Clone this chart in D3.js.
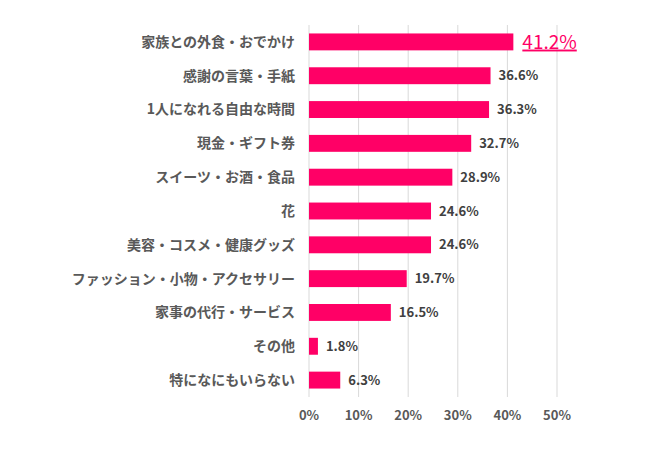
<!DOCTYPE html>
<html>
<head>
<meta charset="utf-8">
<script src="https://cdn.jsdelivr.net/npm/d3@7"></script>
<style>
  body { margin: 0; background: #fff; }
  svg text { font-family: "Noto Sans CJK JP", "Noto Sans", sans-serif; }
</style>
</head>
<body>
<svg class="chart"></svg>
<script>
const categories = [
    "家族との外食・おでかけ", "感謝の言葉・手紙", "1人になれる自由な時間", "現金・ギフト券",
    "スイーツ・お酒・食品", "花", "美容・コスメ・健康グッズ", "ファッション・小物・アクセサリー",
    "家事の代行・サービス", "その他", "特になにもいらない"
];
const values = [41.2, 36.6, 36.3, 32.7, 28.9, 24.6, 24.6, 19.7, 16.5, 1.8, 6.3];
const ticks = [0, 10, 20, 30, 40, 50];
const highlight = 0; // index of the emphasised value

const width = 650, height = 457;
const margin = {top: 25, right: 93, bottom: 60, left: 309};

const svg = d3.select(".chart")
    .attr("width", width)
    .attr("height", height);

const x = d3.scaleLinear()
    .domain([0, 50])
    .range([margin.left, width - margin.right]);

const y = d3.scaleBand()
    .domain(categories)
    .range([margin.top, height - margin.bottom])
    .paddingInner(0.5)
    .paddingOuter(0.25);

// gridlines
svg.append("g")
    .selectAll("line")
    .data(ticks)
    .enter().append("line")
    .attr("x1", d => x(d))
    .attr("x2", d => x(d))
    .attr("y1", margin.top)
    .attr("y2", height - margin.bottom)
    .attr("stroke", "#d9d9d9")
    .attr("stroke-width", 1);

// x tick labels
svg.append("g")
    .selectAll("text")
    .data(ticks)
    .enter().append("text")
    .attr("x", d => x(d))
    .attr("y", 415)
    .attr("dy", "0.35em")
    .attr("text-anchor", "middle")
    .attr("font-size", 13)
    .attr("font-weight", "bold")
    .attr("fill", "#595959")
    .text(d => d + "%");

// category labels
svg.append("g")
    .selectAll("text")
    .data(categories)
    .enter().append("text")
    .attr("x", 295)
    .attr("y", d => y(d) + y.bandwidth() / 2)
    .attr("dy", "0.35em")
    .attr("text-anchor", "end")
    .attr("font-size", 14)
    .attr("font-weight", "bold")
    .attr("fill", "#595959")
    .text(d => d);

// bars
svg.append("g")
    .selectAll("rect")
    .data(values)
    .enter().append("rect")
    .attr("x", x(0))
    .attr("y", (d, i) => y(categories[i]))
    .attr("width", d => x(d) - x(0))
    .attr("height", y.bandwidth())
    .attr("fill", "#ff0066");

// value labels
const labels = svg.append("g")
    .selectAll("text")
    .data(values)
    .enter().append("text")
    .attr("x", d => x(d) + 8)
    .attr("y", (d, i) => y(categories[i]) + y.bandwidth() / 2)
    .attr("dy", "0.35em")
    .attr("font-size", 13)
    .attr("font-weight", "bold")
    .attr("fill", "#404040")
    .text(d => d.toFixed(1) + "%");

labels.filter((d, i) => i === highlight)
    .attr("x", d => x(d) + 9)
    .attr("font-size", 19)
    .attr("font-weight", "normal")
    .attr("fill", "#ff0066")
    .attr("text-decoration", "underline");
</script>
</body>
</html>
